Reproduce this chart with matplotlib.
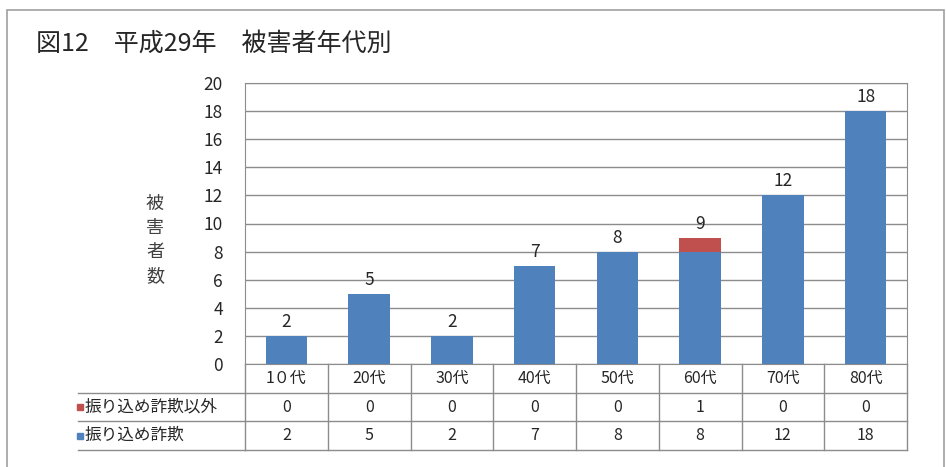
import matplotlib.pyplot as plt
from matplotlib.patches import Rectangle
import matplotlib.transforms as mtransforms

plt.rcParams['font.family'] = ['Noto Sans CJK JP', 'DejaVu Sans']

ages = ["1０代", "20代", "30代", "40代", "50代", "60代", "70代", "80代"]
furikome = [2, 5, 2, 7, 8, 8, 12, 18]
other = [0, 0, 0, 0, 0, 1, 0, 0]
series_names = ["振り込め詐欺以外", "振り込め詐欺"]
blue = "#4F81BD"
red = "#C0504D"
grid_c = "#8C8C8C"
txt_c = "#262626"

W, H = 946, 467
fig = plt.figure(figsize=(W / 100, H / 100), dpi=100)

# outer frame
fig.patches.append(Rectangle((7 / W, -0.01), 937 / W, (H - 10) / H + 0.01,
                             transform=fig.transFigure, fill=False,
                             edgecolor="#A0A0A0", lw=1.2))

ax = fig.add_axes([245 / W, (H - 364) / H, 662 / W, 281 / H])
x = range(len(ages))
ax.bar(x, furikome, width=0.5, color=blue, zorder=3)
ax.bar(x, other, width=0.5, bottom=furikome, color=red, zorder=3)

for i in x:
    total = furikome[i] + other[i]
    ax.text(i, total + 0.35, str(total), ha="center", va="bottom",
            fontsize=12.5, color=txt_c)

ax.set_xlim(-0.5, len(ages) - 0.5)
ax.set_ylim(0, 20)
ax.set_yticks(range(0, 21, 2))
ax.yaxis.grid(True, color=grid_c, lw=1)
ax.set_axisbelow(True)
ax.tick_params(axis="y", length=0, pad=16, labelsize=12.5, labelcolor=txt_c)
ax.set_xticks([])
for s in ax.spines.values():
    s.set_color(grid_c)

fig.text(36 / W, 1 - 44 / H, "図12　平成29年　被害者年代別", fontsize=18,
         ha="left", va="center", color=txt_c)
fig.text(155 / W, 1 - 240 / H, "被\n害\n者\n数", fontsize=13, ha="center",
         va="center", linespacing=1.45, color="#404040")

# data table under the axis
trans = mtransforms.blended_transform_factory(ax.transData, ax.transAxes)
rh = 28.7 / 281
rows = [ages, other, furikome]
for r, vals in enumerate(rows):
    yc = -(r + 0.5) * rh
    for i, v in enumerate(vals):
        ax.text(i, yc, str(v), transform=trans, ha="center", va="center",
                fontsize=11.5, color=txt_c, clip_on=False)
    ax.plot([-0.5, len(ages) - 0.5], [-(r + 1) * rh] * 2, transform=trans,
            color=grid_c, lw=1, clip_on=False)
for i in range(len(ages) + 1):
    ax.plot([i - 0.5] * 2, [0, -3 * rh], transform=trans, color=grid_c,
            lw=1, clip_on=False)

colors = [red, blue]
for r, name in enumerate(series_names):
    yc = -(r + 1.5) * rh
    ax.plot([-(245 - 80) / 662], [yc], transform=ax.transAxes, marker="s",
            ms=5, color=colors[r], clip_on=False)
    ax.text(-(245 - 85) / 662, yc, name, transform=ax.transAxes, ha="left",
            va="center", fontsize=12, color=txt_c, clip_on=False)
    ax.plot([-(245 - 78) / 662, 0], [-(r + 2) * rh] * 2,
            transform=ax.transAxes, color=grid_c, lw=1, clip_on=False)
ax.plot([-(245 - 78) / 662, 0], [-rh] * 2, transform=ax.transAxes,
        color=grid_c, lw=1, clip_on=False)

fig.savefig("out.png", dpi=100)
